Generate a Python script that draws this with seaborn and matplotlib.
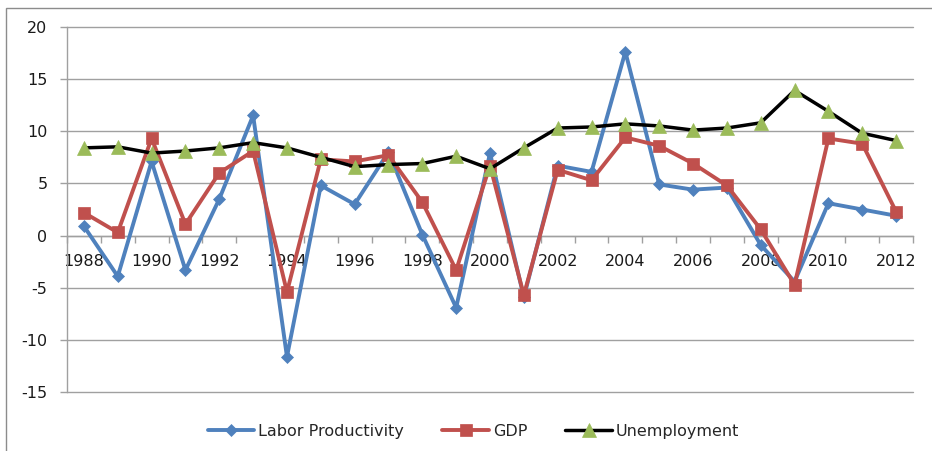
import numpy as np
import pandas as pd
import matplotlib
matplotlib.use("Agg")
import matplotlib.pyplot as plt
from matplotlib.patches import Rectangle
import seaborn as sns

years = list(range(1988, 2013))
labor_productivity = [0.9, -3.9, 7.1, -3.3, 3.5, 11.5, -11.6, 4.8, 3.0, 8.0, 0.1, -6.9, 7.9, -5.9,
                      6.7, 6.1, 17.6, 4.9, 4.4, 4.6, -0.9, -4.4, 3.1, 2.5, 1.9]
gdp = [2.2, 0.3, 9.3, 1.1, 6.0, 8.1, -5.4, 7.3, 7.1, 7.7, 3.2, -3.3, 6.7, -5.7,
       6.3, 5.3, 9.4, 8.6, 6.9, 4.8, 0.6, -4.7, 9.3, 8.8, 2.3]
unemployment = [8.4, 8.5, 7.9, 8.1, 8.4, 8.9, 8.4, 7.5, 6.6, 6.8, 6.9, 7.6, 6.4, 8.4,
                10.3, 10.4, 10.7, 10.5, 10.1, 10.3, 10.8, 13.9, 11.9, 9.8, 9.1]
series_names = ["Labor Productivity", "GDP", "Unemployment"]
y_ticks = [-15, -10, -5, 0, 5, 10, 15, 20]
x_label_years = years[::2]

sns.set_style("white")
plt.rcParams["font.family"] = ["DejaVu Sans"]
plt.rcParams["axes.unicode_minus"] = False

fig = plt.figure(figsize=(9.32, 4.51), dpi=100)
ax = fig.add_axes([67 / 932, 1 - 392.3 / 451, (913 - 67) / 932, (392.3 - 26.7) / 451])

idx = np.arange(len(years))
df = pd.DataFrame({"idx": idx, "lp": labor_productivity, "gdp": gdp, "un": unemployment})

sns.lineplot(data=df, x="idx", y="lp", ax=ax, color="#4F81BD", lw=2.8, marker="D",
             markersize=6.2, markeredgecolor="#4F81BD", markeredgewidth=0.5,
             label=series_names[0], zorder=3)
sns.lineplot(data=df, x="idx", y="gdp", ax=ax, color="#C0504D", lw=2.8, marker="s",
             markersize=8.5, markeredgecolor="#C0504D", markeredgewidth=0.5,
             label=series_names[1], zorder=4)
sns.lineplot(data=df, x="idx", y="un", ax=ax, color="black", lw=2.5, marker="^",
             markersize=9.5, markerfacecolor="#9BBB59", markeredgecolor="#9BBB59",
             markeredgewidth=0.5, label=series_names[2], zorder=5)

ax.set_xlim(-0.5, len(years) - 0.5)
ax.set_ylim(-15, 20)
ax.set_xlabel("")
ax.set_ylabel("")

# y axis
ax.set_yticks(y_ticks)
ax.set_yticklabels([str(t) for t in y_ticks], fontsize=11.5, color="#1a1a1a")
ax.yaxis.grid(True, color="#A0A0A0", lw=1.0)
ax.set_axisbelow(True)
ax.tick_params(axis="y", which="major", length=5, width=1, color="#A0A0A0", pad=9, left=True)
for gl in ax.get_ygridlines():
    gl.set_clip_on(False)

# x axis at y=0
for s in ["top", "right"]:
    ax.spines[s].set_visible(False)
ax.spines["bottom"].set_position(("data", 0))
ax.spines["bottom"].set_color("#A0A0A0")
ax.spines["left"].set_color("#A0A0A0")
ax.spines["bottom"].set_linewidth(1.0)
ax.spines["left"].set_linewidth(1.0)

ax.set_xticks(np.arange(-0.5, len(years), 1.0))
ax.set_xticklabels([])
ax.tick_params(axis="x", which="major", length=5, width=1, color="#A0A0A0", direction="out", bottom=True)
ax.set_xticks(idx[::2], minor=True)
ax.set_xticklabels([str(y) for y in x_label_years], minor=True, fontsize=11.5, color="#1a1a1a")
ax.tick_params(axis="x", which="minor", length=0, pad=13, bottom=True)

handles, labels = ax.get_legend_handles_labels()
ax.get_legend().remove()
fig.legend(handles, labels, loc="center", bbox_to_anchor=(0.508, 0.044), ncol=3, frameon=False,
           fontsize=11.5, handlelength=2.9, handletextpad=0.25, columnspacing=2.4, numpoints=1)

fig.add_artist(Rectangle((6 / 932, -0.01), 1.0, 1 - 8 / 451 + 0.01, transform=fig.transFigure,
                         fill=False, edgecolor="#8c8c8c", lw=1.0))

fig.savefig("out.png", dpi=100)
